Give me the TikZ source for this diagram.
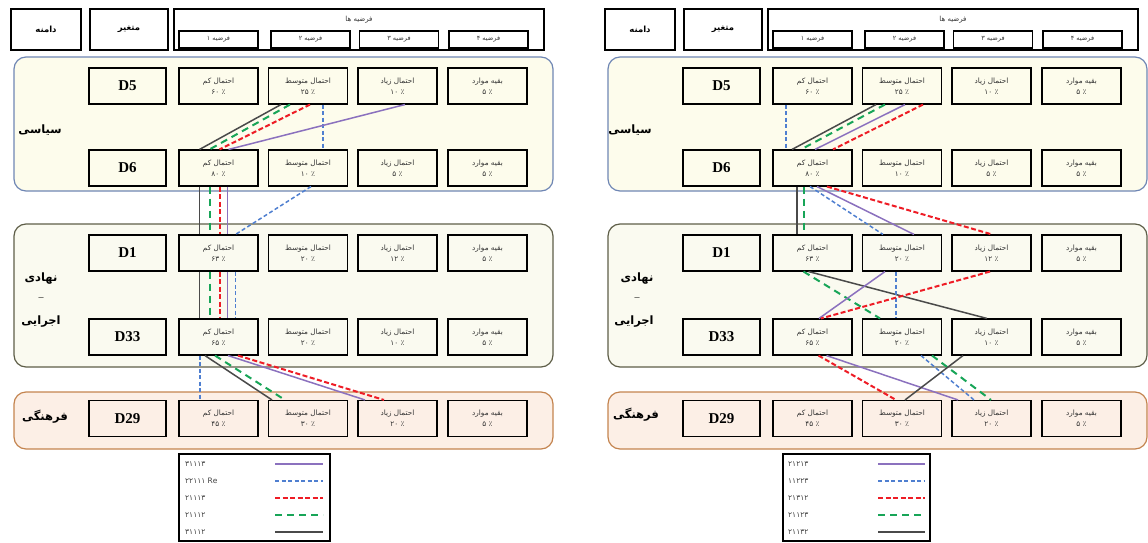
\documentclass[tikz,border=0pt]{standalone}
\usepackage{fontspec}
\setmainfont{Liberation Serif}
\newfontfamily\fa[Script=Arabic]{DejaVu Sans}
\TeXXeTstate=1
\definecolor{purp}{HTML}{8B71BE}
\definecolor{blu}{HTML}{4F7FD0}
\definecolor{redc}{HTML}{EE1C25}
\definecolor{grn}{HTML}{18A558}
\definecolor{gry}{HTML}{4A4A4A}
\definecolor{p1d}{HTML}{6F86B4}
\definecolor{p1f}{HTML}{FDFCEC}
\definecolor{p2d}{HTML}{5E5E48}
\definecolor{p2f}{HTML}{FAFAF0}
\definecolor{p3d}{HTML}{C4844F}
\definecolor{p3f}{HTML}{FCEFE6}
\tikzset{
  x=1pt, y=-1pt,
  vbox/.style={draw, line width=1.3pt, minimum width=77pt, minimum height=36pt, inner sep=0pt, font=\bfseries\fontsize{15}{15}\selectfont},
  cell/.style={draw, line width=1.1pt, minimum width=79pt, minimum height=36pt, inner sep=0pt, align=center, text=black!80, font=\fa\fontsize{7.3}{11}\selectfont},
  hdr/.style={draw, line width=1.3pt, inner sep=0pt, minimum height=41pt, font=\fa\bfseries\fontsize{8.5}{10}\selectfont},
  sub/.style={draw, line width=1.1pt, minimum width=79pt, minimum height=17pt, inner sep=0pt, text=black!80, font=\fa\fontsize{6.5}{7}\selectfont},
  panel/.style={draw, rounded corners=12pt, line width=1.2pt, minimum width=539pt, inner sep=0pt},
  plabel/.style={inner sep=0pt, font=\fa\bfseries\fontsize{11.5}{13}\selectfont},
  legbox/.style={draw, line width=1.5pt, inner sep=0pt},
  legtxt/.style={anchor=west, inner sep=0pt, text=black!75, font=\fa\fontsize{7.5}{9}\selectfont},
  lp/.style={draw=purp, line width=1.5pt},
  lb/.style={draw=blu, line width=1.5pt, dash pattern=on 4pt off 2.5pt},
  lr/.style={draw=redc, line width=2pt, dash pattern=on 5pt off 2.5pt},
  lg/.style={draw=grn, line width=2pt, dash pattern=on 7pt off 5pt},
  lk/.style={draw=gry, line width=1.5pt},
}
\newcommand\drow[7]{%
  \node[vbox] (#1#2) at (127.5,#3) {#2};
  \node[cell] (#1#2-1) at (218.5,#3) {\beginR احتمال کم\endR\\#4};
  \node[cell] (#1#2-2) at (308,#3) {\beginR احتمال متوسط\endR\\#5};
  \node[cell] (#1#2-3) at (397.5,#3) {\beginR احتمال زیاد\endR\\#6};
  \node[cell] (#1#2-4) at (487.5,#3) {\beginR بقیه موارد\endR\\#7};
}
\newcommand\skeleton[1]{%
  \node[panel, draw=p1d, fill=p1f, minimum height=134pt] (#1pa) at (283.5,124) {};
  \node[panel, draw=p2d, fill=p2f, minimum height=143pt] (#1pb) at (283.5,295.5) {};
  \node[panel, draw=p3d, fill=p3f, minimum height=57pt] (#1pc) at (283.5,420.5) {};
  \node[hdr, minimum width=70pt] (#1dom) at (46,29.5) {دامنه};
  \node[hdr, minimum width=78pt] (#1var) at (129,29.5) {متغیر};
  \node[draw, line width=1.3pt, minimum width=370pt, minimum height=41pt, inner sep=0pt] (#1hyp) at (359,29.5) {};
  \node[inner sep=0pt, text=black!80, font=\fa\fontsize{7}{8}\selectfont] (#1hypt) at (359,19.5) {\beginR فرضیه ها\endR};
  \node[sub] (#1h1) at (218.5,39.5) {\beginR فرضیه ۱\endR};
  \node[sub] (#1h2) at (310.5,39.5) {\beginR فرضیه ۲\endR};
  \node[sub] (#1h3) at (399,39.5) {\beginR فرضیه ۳\endR};
  \node[sub] (#1h4) at (488.5,39.5) {\beginR فرضیه ۴\endR};
  \drow{#1}{D5}{86}{۶۰ ٪}{۲۵ ٪}{۱۰ ٪}{۵ ٪}
  \drow{#1}{D6}{168}{۸۰ ٪}{۱۰ ٪}{۵ ٪}{۵ ٪}
  \drow{#1}{D1}{253}{۶۳ ٪}{۲۰ ٪}{۱۲ ٪}{۵ ٪}
  \drow{#1}{D33}{337}{۶۵ ٪}{۲۰ ٪}{۱۰ ٪}{۵ ٪}
  \drow{#1}{D29}{418.5}{۴۵ ٪}{۳۰ ٪}{۲۰ ٪}{۵ ٪}
}
\begin{document}
\begin{tikzpicture}
\useasboundingbox (0,0) rectangle (1148,543);
% ---------------- left diagram ----------------
\begin{scope}
  \skeleton{L}
  \node[plabel] (Llab1) at (40,130) {سیاسی};
  \node[plabel] (Llab2) at (41,279) {نهادی};
  \node[inner sep=0pt, font=\fontsize{10}{10}\selectfont] (Llab2d) at (41,299) {–};
  \node[plabel] (Llab3) at (41,322) {اجرایی};
  \node[plabel] (Llab4) at (45,417) {فرهنگی};
  % D5 -> D6
  \draw[lk] ([xshift=-27]LD5-2.south) -- ([xshift=-19]LD6-1.north);
  \draw[lg] ([xshift=-18]LD5-2.south) -- ([xshift=-9]LD6-1.north);
  \draw[lr] ([xshift=2]LD5-2.south) -- ([xshift=1]LD6-1.north);
  \draw[lb] ([xshift=15]LD5-2.south) -- ([xshift=15]LD6-2.north);
  \draw[lp] ([xshift=7.5]LD5-3.south) -- ([xshift=10]LD6-1.north);
  % D6 -> D1
  \draw[lk] ([xshift=-19]LD6-1.south) -- ([xshift=-19]LD1-1.north);
  \draw[lg] ([xshift=-9]LD6-1.south) -- ([xshift=-9]LD1-1.north);
  \draw[lr] ([xshift=1]LD6-1.south) -- ([xshift=1]LD1-1.north);
  \draw[lp] ([xshift=9]LD6-1.south) -- ([xshift=9]LD1-1.north);
  \draw[lb] ([xshift=3]LD6-2.south) -- ([xshift=17]LD1-1.north);
  % D1 -> D33
  \draw[lk] ([xshift=-19]LD1-1.south) -- ([xshift=-19]LD33-1.north);
  \draw[lg] ([xshift=-9]LD1-1.south) -- ([xshift=-9]LD33-1.north);
  \draw[lr] ([xshift=1]LD1-1.south) -- ([xshift=1]LD33-1.north);
  \draw[lp] ([xshift=9]LD1-1.south) -- ([xshift=9]LD33-1.north);
  \draw[lb] ([xshift=17]LD1-1.south) -- ([xshift=17]LD33-1.north);
  % D33 -> D29
  \draw[lb] ([xshift=-18.5]LD33-1.south) -- ([xshift=-18.5]LD29-1.north);
  \draw[lk] ([xshift=-13.5]LD33-1.south) -- ([xshift=-36]LD29-2.north);
  \draw[lg] ([xshift=-3.5]LD33-1.south) -- ([xshift=-23]LD29-2.north);
  \draw[lp] ([xshift=9.5]LD33-1.south) -- ([xshift=-32.5]LD29-3.north);
  \draw[lr] ([xshift=19.5]LD33-1.south) -- ([xshift=-13.5]LD29-3.north);
  % legend
  \node[legbox, minimum width=151pt, minimum height=87pt] (Lleg) at (254.5,497.5) {};
  \node[legtxt] (Lt1) at (185,464) {۳۱۱۱۳};
  \node[legtxt] (Lt2) at (185,481) {۲۲۱۱۱ Re};
  \node[legtxt] (Lt3) at (185,498) {۲۱۱۱۳};
  \node[legtxt] (Lt4) at (185,515) {۲۱۱۱۲};
  \node[legtxt] (Lt5) at (185,532) {۳۱۱۱۲};
  \foreach \i/\yy in {1/464,2/481,3/498,4/515,5/532}{
    \coordinate (La\i) at (275,\yy);
    \coordinate (Lb\i) at (323,\yy);
  }
  \draw[lp] (La1) -- (Lb1);
  \draw[lb] (La2) -- (Lb2);
  \draw[lr] (La3) -- (Lb3);
  \draw[lg] (La4) -- (Lb4);
  \draw[lk] (La5) -- (Lb5);
\end{scope}
% ---------------- right diagram ----------------
\begin{scope}[xshift=594]
  \skeleton{R}
  \node[plabel] (Rlab1) at (36,130) {سیاسی};
  \node[plabel] (Rlab2) at (43,279) {نهادی};
  \node[inner sep=0pt, font=\fontsize{10}{10}\selectfont] (Rlab2d) at (43,299) {–};
  \node[plabel] (Rlab3) at (40,322) {اجرایی};
  \node[plabel] (Rlab4) at (42,415) {فرهنگی};
  % D5 -> D6
  \draw[lb] ([xshift=-26.5]RD5-1.south) -- ([xshift=-26.5]RD6-1.north);
  \draw[lk] ([xshift=-26]RD5-2.south) -- ([xshift=-20.5]RD6-1.north);
  \draw[lg] ([xshift=-17]RD5-2.south) -- ([xshift=-11.5]RD6-1.north);
  \draw[lp] ([xshift=3]RD5-2.south) -- ([xshift=2.5]RD6-1.north);
  \draw[lr] ([xshift=21]RD5-2.south) -- ([xshift=20.5]RD6-1.north);
  % D6 -> D1
  \draw[lk] ([xshift=-15.5]RD6-1.south) -- ([xshift=-15.5]RD1-1.north);
  \draw[lg] ([xshift=-8.5]RD6-1.south) -- ([xshift=-8.5]RD1-1.north);
  \draw[lb] ([xshift=-2.5]RD6-1.south) -- ([xshift=-19]RD1-2.north);
  \draw[lp] ([xshift=4.5]RD6-1.south) -- ([xshift=12]RD1-2.north);
  \draw[lr] ([xshift=14.5]RD6-1.south) -- ([xshift=0.5]RD1-3.north);
  % D1 -> D33
  \draw[lk] ([xshift=-4]RD1-1.south) -- ([xshift=-4.5]RD33-3.north);
  \draw[lg] ([xshift=-9]RD1-1.south) -- ([xshift=-22]RD33-2.north);
  \draw[lp] ([xshift=-17]RD1-2.south) -- ([xshift=6.5]RD33-1.north);
  \draw[lb] ([xshift=-6]RD1-2.south) -- ([xshift=-6]RD33-2.north);
  \draw[lr] ([xshift=-1.5]RD1-3.south) -- ([xshift=8.5]RD33-1.north);
  % D33 -> D29
  \draw[lr] ([xshift=6]RD33-1.south) -- ([xshift=-6]RD29-2.north);
  \draw[lp] ([xshift=14]RD33-1.south) -- ([xshift=-33.5]RD29-3.north);
  \draw[lb] ([xshift=19]RD33-2.south) -- ([xshift=-17.5]RD29-3.north);
  \draw[lg] ([xshift=30]RD33-2.south) -- ([xshift=-0.5]RD29-3.north);
  \draw[lk] ([xshift=-28.5]RD33-3.south) -- ([xshift=3]RD29-2.north);
  % legend
  \node[legbox, minimum width=147pt, minimum height=87pt] (Rleg) at (262.5,497.5) {};
  \node[legtxt] (Rt1) at (194,464) {۲۱۲۱۳};
  \node[legtxt] (Rt2) at (194,481) {۱۱۲۲۳};
  \node[legtxt] (Rt3) at (194,498) {۲۱۳۱۲};
  \node[legtxt] (Rt4) at (194,515) {۲۱۱۲۳};
  \node[legtxt] (Rt5) at (194,532) {۲۱۱۳۲};
  \foreach \i/\yy in {1/464,2/481,3/498,4/515,5/532}{
    \coordinate (Ra\i) at (284,\yy);
    \coordinate (Rb\i) at (331,\yy);
  }
  \draw[lp] (Ra1) -- (Rb1);
  \draw[lb] (Ra2) -- (Rb2);
  \draw[lr] (Ra3) -- (Rb3);
  \draw[lg] (Ra4) -- (Rb4);
  \draw[lk] (Ra5) -- (Rb5);
\end{scope}
\end{tikzpicture}
\end{document}
